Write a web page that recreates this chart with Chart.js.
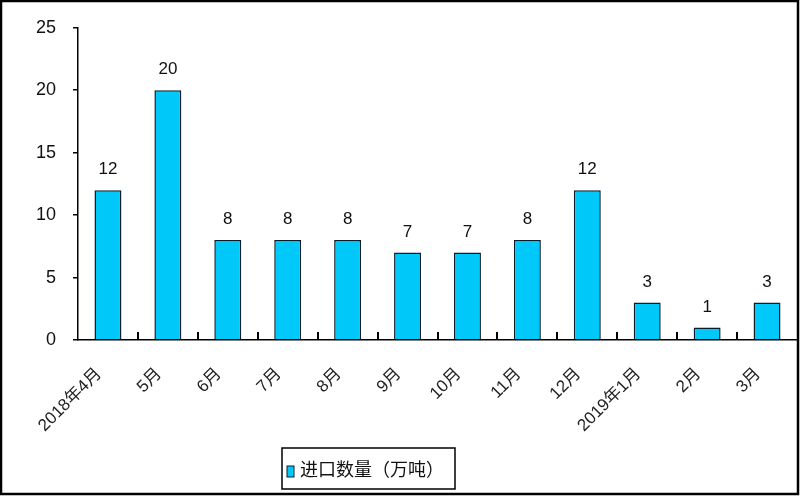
<!DOCTYPE html>
<html>
<head>
<meta charset="utf-8">
<script src="https://cdn.jsdelivr.net/npm/chart.js@4"></script>
<style>
  html, body { margin: 0; padding: 0; background: #fff; }
  #wrap { width: 800px; height: 500px; }
</style>
</head>
<body>
<div id="wrap"><canvas id="importChart" width="800" height="500"></canvas></div>
<script>
// 进口数量（万吨）
var months = ['2018年4月', '5月', '6月', '7月', '8月', '9月', '10月', '11月', '12月', '2019年1月', '2月', '3月'];
var importQty = [12, 20, 8, 8, 8, 7, 7, 8, 12, 3, 1, 3];
var yTicks = [0, 5, 10, 15, 20, 25];
var seriesName = '进口数量（万吨）';

var FONT = '"Liberation Sans", Arial, "Noto Sans CJK SC", sans-serif';

// 柱顶数值 + 类别间刻度 + 图例 + 外框
var extras = {
    id: 'extras',
    afterDraw: function (chart) {
        var ctx = chart.ctx;
        var ds = chart.data.datasets[0];
        var bars = chart.getDatasetMeta(0).data;
        var bottom = chart.chartArea.bottom;
        ctx.save();
        // small inward ticks between categories
        ctx.fillStyle = '#000';
        for (var i = 1; i < bars.length; i++) {
            var bx = Math.round((bars[i - 1].x + bars[i].x) / 2);
            ctx.fillRect(bx - 1, bottom - 8, 2, 8);
        }
        // value labels
        ctx.fillStyle = '#111';
        ctx.font = '17px ' + FONT;
        ctx.textAlign = 'center';
        ctx.textBaseline = 'bottom';
        bars.forEach(function (bar, i) {
            ctx.fillText(String(ds.data[i]), bar.x, bar.y - 12);
        });
        // legend box
        ctx.strokeStyle = '#000';
        ctx.lineWidth = 1.5;
        ctx.strokeRect(282, 448, 173, 41);
        ctx.fillStyle = ds.backgroundColor;
        ctx.fillRect(287, 466, 7, 11);
        ctx.lineWidth = 1;
        ctx.strokeStyle = ds.borderColor;
        ctx.strokeRect(287, 466, 7, 11);
        ctx.fillStyle = '#111';
        ctx.font = '18px ' + FONT;
        ctx.textAlign = 'left';
        ctx.textBaseline = 'middle';
        ctx.fillText(ds.label, 300, 471);
        // outer frame
        ctx.strokeStyle = '#000';
        ctx.lineWidth = 2.5;
        ctx.strokeRect(1, 1, 797, 493);
        ctx.restore();
    }
};

document.addEventListener('DOMContentLoaded', function () {
    var ctx = document.getElementById('importChart').getContext('2d');
    new Chart(ctx, {
        type: 'bar',
        data: {
            labels: months,
            datasets: [{
                label: seriesName,
                data: importQty,
                backgroundColor: '#00C8F8',
                borderColor: '#0b1d2a',
                borderWidth: 1.5,
                categoryPercentage: 1,
                barPercentage: 0.45
            }]
        },
        options: {
            responsive: false,
            animation: false,
            layout: { padding: { top: 24, right: 3, left: 0, bottom: 0 } },
            plugins: {
                legend: { display: false },
                tooltip: { enabled: false }
            },
            scales: {
                x: {
                    grid: { display: false },
                    border: { display: true, color: '#000', width: 1.5 },
                    ticks: {
                        minRotation: 45, maxRotation: 45, padding: 16, labelOffset: -9,
                        color: '#222', font: { size: 17, family: FONT }
                    },
                    afterFit: function (scale) { scale.height = 160; }
                },
                y: {
                    min: 0, max: 25,
                    afterBuildTicks: function (scale) {
                        scale.ticks = yTicks.map(function (v) { return { value: v }; });
                    },
                    grid: { drawOnChartArea: false, color: '#000', tickLength: 5, lineWidth: 1.5 },
                    border: { color: '#000', width: 1.5 },
                    ticks: { padding: 17, color: '#111', font: { size: 18, family: FONT } },
                    afterFit: function (scale) { scale.width = 78; }
                }
            }
        },
        plugins: [extras]
    });
});
</script>
</body>
</html>
